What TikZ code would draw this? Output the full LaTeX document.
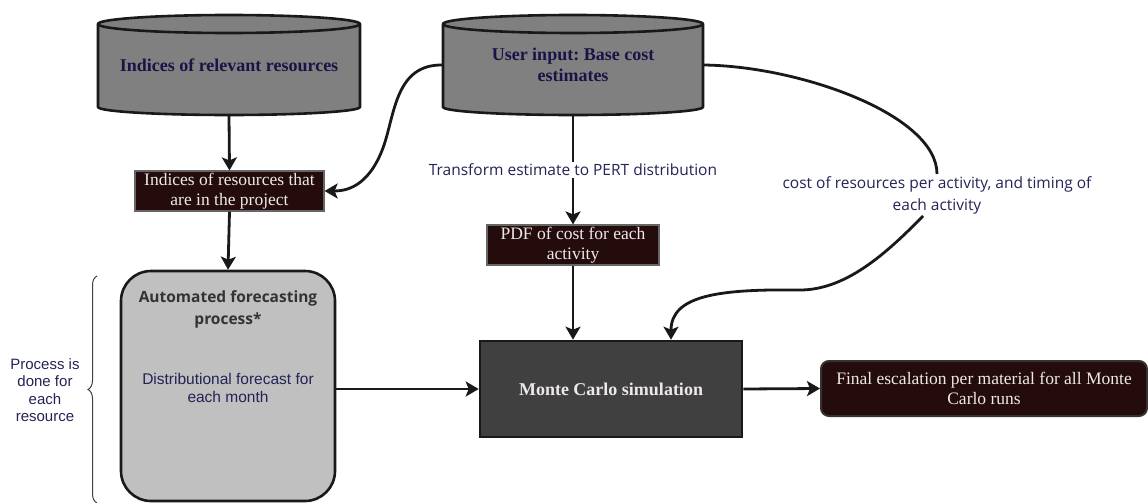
\documentclass[tikz,border=0pt]{standalone}
\usepackage{fontspec}
\setmainfont{Liberation Serif}
\newfontfamily\labelfont{Open Sans}
\newfontfamily\plainsans{Liberation Sans}
\usetikzlibrary{arrows.meta}
\usetikzlibrary{decorations.pathreplacing}
\definecolor{inkblue}{RGB}{25,20,72}
\definecolor{labelblue}{RGB}{35,35,85}
\definecolor{cylgray}{RGB}{128,128,128}
\definecolor{darkred}{RGB}{37,12,12}
\definecolor{simgray}{RGB}{64,64,64}
\definecolor{procgray}{RGB}{192,192,192}
\definecolor{paletext}{RGB}{238,232,232}
\frenchspacing

\tikzset{
  flow/.style = {-{Stealth[length=13pt,width=15pt,inset=3pt]}, line width=2.8pt, draw=black!90},
  cylbody/.style = {fill=cylgray, draw=black!90, line width=2.6pt, line join=round},
  cyltext/.style = {align=center, text=inkblue, font=\fontsize{18}{21}\selectfont\bfseries, minimum width=262pt, minimum height=100pt, inner sep=0pt},
  darkbox/.style = {fill=darkred, draw=black!60, line width=1.2pt, text=paletext, align=center, font=\fontsize{17.5}{20}\selectfont, inner sep=0pt},
  edgetext/.style = {align=center, text=labelblue, font=\labelfont\fontsize{15.5}{22}\selectfont, fill=white, inner sep=2pt}
}

\begin{document}
\begin{tikzpicture}[x=1pt,y=1pt]
    \useasboundingbox (0,0) rectangle (1148,-503);

    % data stores
    \draw[cylbody] (98,-24) -- (98,-107) arc[start angle=180,end angle=360,x radius=131,y radius=8] -- (360,-24) arc[start angle=0,end angle=180,x radius=131,y radius=9] -- cycle;
    \draw[cylbody,fill=none] (98,-24) arc[start angle=180,end angle=360,x radius=131,y radius=9];
    \node[cyltext] (relevant) at (229,-65) {Indices of relevant resources};

    \draw[cylbody] (443,-24) -- (443,-107) arc[start angle=180,end angle=360,x radius=130,y radius=8] -- (703,-24) arc[start angle=0,end angle=180,x radius=130,y radius=9] -- cycle;
    \draw[cylbody,fill=none] (443,-24) arc[start angle=180,end angle=360,x radius=130,y radius=9];
    \node[cyltext, minimum width=260pt] (userinput) at (573,-65) {User input: Base cost\\estimates};

    % intermediate results
    \node[darkbox, minimum width=189pt, minimum height=40pt] (inproject) at (229.5,-191) {Indices of resources that\\are in the project};
    \node[darkbox, minimum width=172pt, minimum height=40pt] (pdfcost) at (573,-245) {PDF of cost for each\\activity};

    % forecasting process
    \node[draw=black!90, line width=2.6pt, fill=procgray, rounded corners=30pt, minimum width=214pt, minimum height=230pt] (forecast) at (228,-386) {};
    \node[align=center, text=black!80, font=\labelfont\bfseries\fontsize{15.5}{22}\selectfont] (forecasttitle) at (228,-309) {Automated forecasting\\process*};
    \node[align=center, text=labelblue, font=\plainsans\fontsize{15.5}{18}\selectfont] (forecastbody) at (228,-388) {Distributional forecast for\\each month};

    \coordinate (bracebot) at (97,-503);
    \coordinate (bracetop) at (97,-276);
    \draw[decorate, decoration={brace, amplitude=9pt}, draw=black!75, line width=1pt] (bracebot) -- (bracetop);
    \node[align=center, text=labelblue, font=\plainsans\fontsize{15}{17.5}\selectfont] (eachres) at (45,-390) {Process is\\done for\\each\\resource};

    % simulation and result
    \node[draw=black!90, line width=2.6pt, fill=simgray, minimum width=262pt, minimum height=96pt, text=paletext, font=\fontsize{18}{20}\selectfont\bfseries] (montecarlo) at (611,-389) {Monte Carlo simulation};
    \node[darkbox, draw=black!80, line width=2pt, rounded corners=8pt, minimum width=326pt, minimum height=55pt] (final) at (984,-388.5) {Final escalation per material for all Monte\\Carlo runs};

    \node[edgetext, fill=none] (costlabel) at (937,-195) {cost of resources per activity, and timing of\\each activity};

    % connectors
    \draw[flow] (relevant.south) -- (inproject.north);
    \draw[flow] (inproject.south) -- (forecast.north);
    \draw[flow] (userinput.west) .. controls (395,-64) and (395,-115) .. (383,-148) .. controls (368,-188) and (345,-191) .. (inproject.east);
    \draw[flow] (userinput.south) -- node[edgetext] (pertlabel) {Transform estimate to PERT distribution} (pdfcost.north);
    \draw[flow] (pdfcost.south) -- (pdfcost.south |- montecarlo.north);
    \draw[line width=2.8pt, draw=black!90] (userinput.east) .. controls (800,-66) and (937,-115) .. (costlabel.north);
    \draw[flow] ([xshift=-14pt]costlabel.south) .. controls (885,-255) and (845,-290) .. (800,-290) .. controls (720,-289) and (671,-295) .. ([xshift=60pt]montecarlo.north);
    \draw[flow] (forecast.east |- montecarlo.west) -- (montecarlo.west);
    \draw[flow] (montecarlo.east) -- (final.west);
\end{tikzpicture}
\end{document}
